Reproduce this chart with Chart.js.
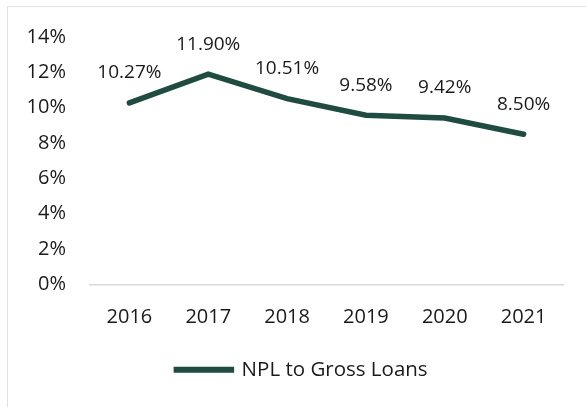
<!DOCTYPE html>
<html>
<head>
<meta charset="utf-8">
<script src="https://cdn.jsdelivr.net/npm/chart.js@4/dist/chart.umd.min.js"></script>
<style>
  html, body { margin: 0; padding: 0; background: #fff; }
  #wrap { position: relative; width: 586px; height: 407px; overflow: hidden; }
  #frame { position: absolute; left: 7px; top: 6px; width: 620px; height: 440px; border: 1.5px solid #e2e2e2; box-sizing: border-box; }
  canvas { position: absolute; left: 0; top: 0; }
</style>
</head>
<body>
<div id="wrap">
  <div id="frame"></div>
  <canvas id="chart" width="586" height="407"></canvas>
</div>
<script>
// NPL to gross loans ratio, in percent
const years = ['2016', '2017', '2018', '2019', '2020', '2021'];
const nplRatio = [10.27, 11.90, 10.51, 9.58, 9.42, 8.50];
const yTicks = [0, 2, 4, 6, 8, 10, 12, 14];
const seriesName = 'NPL to Gross Loans';

const lineColor = '#1f4b42';
const textColor = '#1a1a1a';
const fontFamily = '"Open Sans", Lato, sans-serif';

// Writes each point's value above it
const valueLabels = {
  id: 'valueLabels',
  afterDatasetsDraw(chart) {
    const ctx = chart.ctx;
    const meta = chart.getDatasetMeta(0);
    ctx.save();
    ctx.font = '19px ' + fontFamily;
    ctx.fillStyle = textColor;
    ctx.textAlign = 'center';
    ctx.textBaseline = 'middle';
    meta.data.forEach((pt, i) => {
      ctx.fillText(nplRatio[i].toFixed(2) + '%', pt.x, pt.y - 30);
    });
    ctx.restore();
  }
};

// Centres the legend under the plot area rather than the whole canvas
const legendUnderPlot = {
  id: 'legendUnderPlot',
  afterLayout(chart) {
    if (chart.legend) {
      chart.legend.left += 41;
    }
  }
};

new Chart(document.getElementById('chart'), {
  type: 'line',
  data: {
    labels: years,
    datasets: [{
      label: seriesName,
      data: nplRatio,
      borderColor: lineColor,
      backgroundColor: lineColor,
      borderWidth: 5.5,
      borderCapStyle: 'round',
      borderJoinStyle: 'miter',
      pointRadius: 0,
      tension: 0
    }]
  },
  options: {
    responsive: false,
    animation: false,
    layout: { padding: { left: 0, right: 23, top: 37, bottom: 17 } },
    scales: {
      x: {
        offset: true,
        grid: { display: false, drawTicks: false },
        border: { display: true, color: '#d9d9d9', width: 1.5 },
        ticks: { color: textColor, font: { family: fontFamily, size: 20 }, padding: 21, maxRotation: 0 }
      },
      y: {
        min: 0,
        max: 14,
        afterFit(scale) { scale.width = 90; },
        afterBuildTicks(scale) { scale.ticks = yTicks.map(v => ({ value: v })); },
        grid: { display: false, drawTicks: false },
        border: { display: false },
        ticks: {
          color: textColor,
          font: { family: fontFamily, size: 20 },
          padding: 24,
          callback: v => v + '%'
        }
      }
    },
    plugins: {
      legend: {
        position: 'bottom',
        labels: {
          boxWidth: 55,
          boxHeight: 0.5,
          color: textColor,
          font: { family: fontFamily, size: 20.5 },
          padding: 9
        }
      },
      tooltip: { enabled: false }
    }
  },
  plugins: [valueLabels, legendUnderPlot]
});
</script>
</body>
</html>
